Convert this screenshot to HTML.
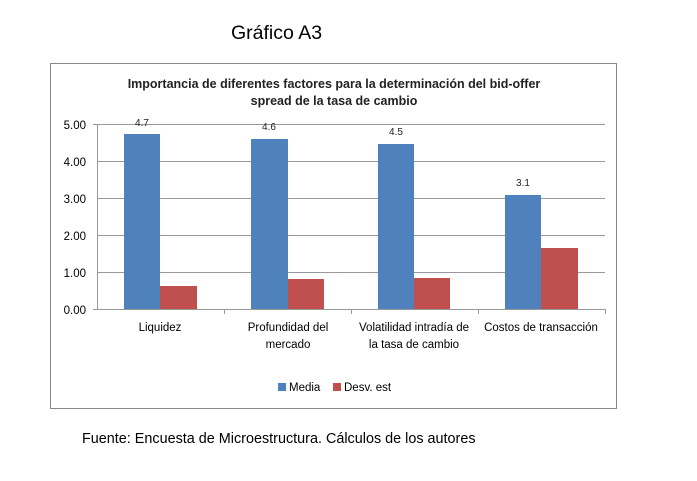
<!DOCTYPE html><html><head><style>body{margin:0;background:#fff;width:697px;height:476px;overflow:hidden;font-family:"Liberation Sans",sans-serif}</style></head><body>
<svg width="697" height="476" xmlns="http://www.w3.org/2000/svg" font-family="Liberation Sans, sans-serif">
<text x="231" y="39" font-size="19.5" fill="#000">Gráfico A3</text>
<rect x="50.5" y="63.5" width="566" height="345" fill="#fff" stroke="#888"/>
<text x="334" y="88" font-size="12.5" font-weight="bold" text-anchor="middle" fill="#222">Importancia de diferentes factores para la determinación del bid-offer</text>
<text x="334" y="105" font-size="12.5" font-weight="bold" text-anchor="middle" fill="#222">spread de la tasa de cambio</text>
<g stroke="#999" stroke-width="1">
<line x1="97" y1="124.5" x2="605" y2="124.5"/><line x1="97" y1="161.5" x2="605" y2="161.5"/><line x1="97" y1="198.5" x2="605" y2="198.5"/><line x1="97" y1="235.5" x2="605" y2="235.5"/><line x1="97" y1="272.5" x2="605" y2="272.5"/>
<line x1="97.5" y1="124" x2="97.5" y2="309"/><line x1="93" y1="309.5" x2="605" y2="309.5"/>
<line x1="93" y1="124.5" x2="97" y2="124.5"/>
<line x1="224.5" y1="309" x2="224.5" y2="314"/><line x1="351.5" y1="309" x2="351.5" y2="314"/><line x1="478.5" y1="309" x2="478.5" y2="314"/><line x1="605.5" y1="309" x2="605.5" y2="314"/>
</g>
<g font-size="11.5" fill="#000" text-anchor="end">
<text x="86" y="129">5.00</text><text x="86" y="166">4.00</text><text x="86" y="203">3.00</text><text x="86" y="240">2.00</text><text x="86" y="277">1.00</text><text x="86" y="314">0.00</text>
</g>
<g fill="#4f81bd"><rect x="124" y="134" width="36" height="175"/><rect x="251" y="139" width="37" height="170"/><rect x="378" y="144" width="36" height="165"/><rect x="505" y="195" width="36" height="114"/></g>
<g fill="#c0504d"><rect x="160" y="286" width="37" height="23"/><rect x="288" y="279" width="36" height="30"/><rect x="414" y="278" width="36" height="31"/><rect x="541" y="248" width="37" height="61"/></g>
<g font-size="10" fill="#222" text-anchor="middle"><text x="142" y="126">4.7</text><text x="269" y="130">4.6</text><text x="396" y="135">4.5</text><text x="523" y="186">3.1</text></g>
<g font-size="11.5" fill="#000" text-anchor="middle">
<text x="160" y="331">Liquidez</text>
<text x="288" y="331">Profundidad del</text><text x="288" y="348">mercado</text>
<text x="414" y="331">Volatilidad intradía de</text><text x="414" y="348">la tasa de cambio</text>
<text x="541" y="331">Costos de transacción</text>
</g>
<rect x="278" y="383" width="8" height="8" fill="#4f81bd"/><text x="289" y="391" font-size="11.5">Media</text>
<rect x="333" y="383" width="8" height="8" fill="#c0504d"/><text x="344" y="391" font-size="11.5">Desv. est</text>
<text x="82" y="443" font-size="14.4" fill="#000">Fuente: Encuesta de Microestructura. Cálculos de los autores</text>
</svg>
</body></html>
